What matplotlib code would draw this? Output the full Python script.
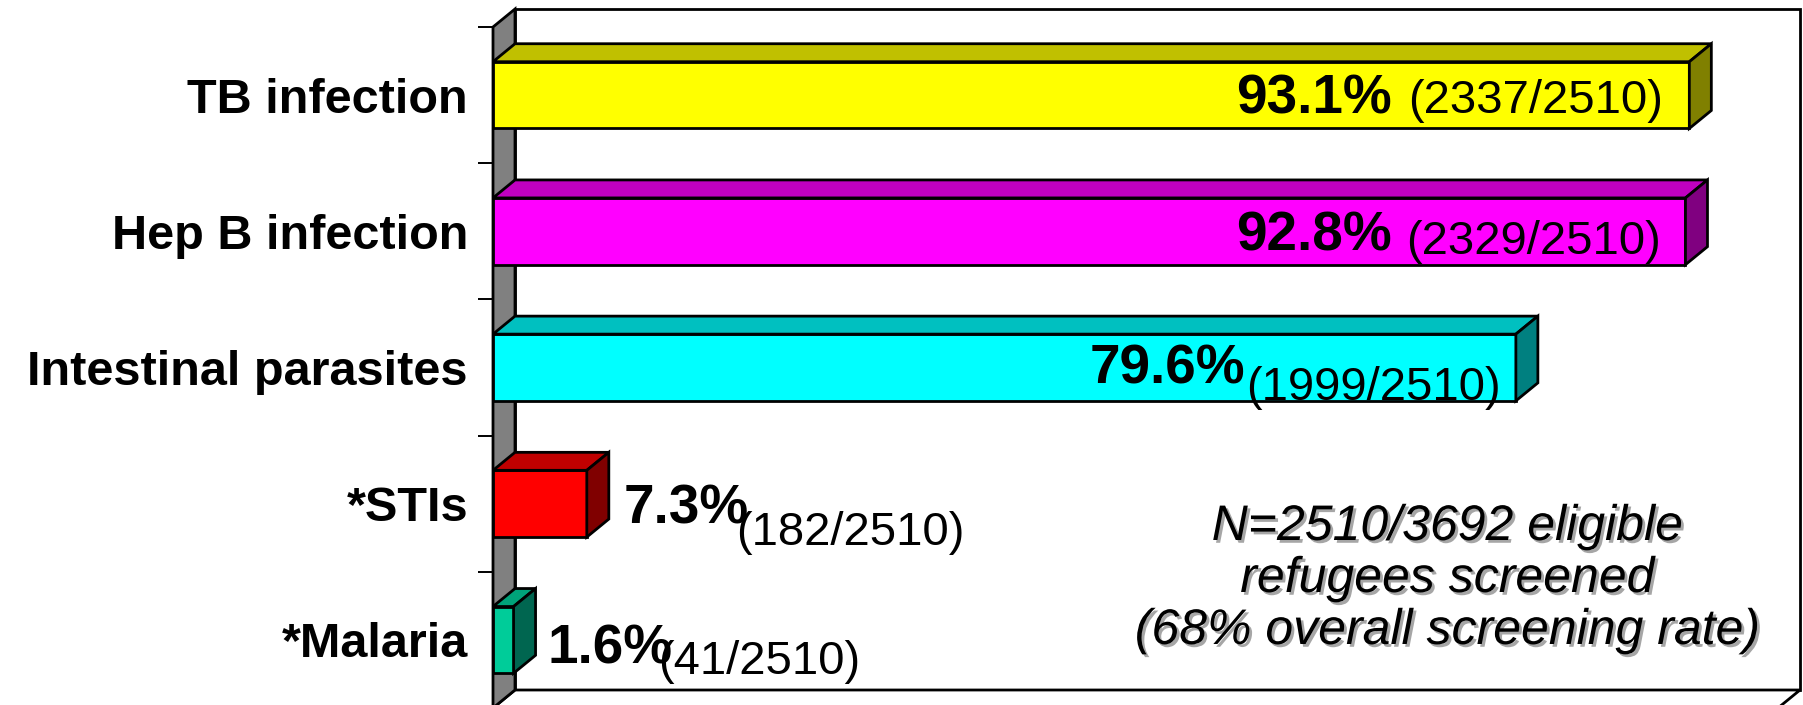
import matplotlib
matplotlib.use("Agg")
import matplotlib.pyplot as plt
from matplotlib.patches import Polygon
import matplotlib.patheffects as pe

# ---- data ----
categories = ["TB infection", "Hep B infection", "Intestinal parasites", "*STIs", "*Malaria"]
percents = [93.1, 92.8, 79.6, 7.3, 1.6]
positives = [2337, 2329, 1999, 182, 41]
screened = [2510, 2510, 2510, 2510, 2510]
note_lines = ["N=2510/3692 eligible", "refugees screened", "(68% overall screening rate)"]

# ---- styles ----
front_colors = ["#ffff00", "#ff00ff", "#00ffff", "#ff0000", "#00cc99"]
top_colors = ["#c0c000", "#c000c0", "#00c0c0", "#c00000", "#00a37a"]
side_colors = ["#808000", "#800080", "#008080", "#800000", "#006650"]
# label placement in pixels: bold start relative to bar end, baseline below centre,
# gap to the count text, extra drop of the count text
bold_dx = [-453, -449, -426, 37, 34]
bold_dy = [18, 19, 16, 20, 24]
count_gap = [16, 14, 1, -13, -15]
count_dy = [0, 4, 16, 21, 10]

FONT = "Liberation Sans"
LW = 2.0
W, H, DPI = 1803, 705, 100
X0, X1 = 493, 1778        # front plane, 0 .. 100 %
YTOP, YBOT = 27, 708
DEPTH_X, DEPTH_Y = 22, 18

fig = plt.figure(figsize=(W / DPI, H / DPI), dpi=DPI)
ax = fig.add_axes([X0 / W, (H - YBOT) / H, (X1 - X0) / W, (YBOT - YTOP) / H])
n = len(categories)
ax.set_xlim(0, 100)
ax.set_ylim(n, 0)
ax.patch.set_visible(False)
for s in ax.spines.values():
    s.set_visible(False)

ddx = DEPTH_X / (X1 - X0) * 100
ddy = -DEPTH_Y / (YBOT - YTOP) * n

# back wall, floor and left wall
ax.add_patch(Polygon([(ddx, ddy), (100 + ddx, ddy), (100 + ddx, n + ddy), (ddx, n + ddy)],
                     closed=True, facecolor="white", edgecolor="black", lw=LW,
                     clip_on=False, zorder=0))
ax.add_patch(Polygon([(0, n), (ddx, n + ddy), (100 + ddx, n + ddy), (100, n)],
                     closed=True, facecolor="white", edgecolor="black", lw=LW,
                     clip_on=False, zorder=0.5))
ax.add_patch(Polygon([(0, 0), (ddx, ddy), (ddx, n + ddy), (0, n)],
                     closed=True, facecolor="#808080", edgecolor="black", lw=LW,
                     clip_on=False, zorder=1))

# bars
centers = [i + 0.5 for i in range(n)]
bh = 0.49
ax.barh(centers, percents, height=bh, color=front_colors, edgecolor="black",
        linewidth=LW, zorder=3)
for c, v, tc, sc in zip(centers, percents, top_colors, side_colors):
    top, bot = c - bh / 2, c + bh / 2
    ax.add_patch(Polygon([(0, top), (v, top), (v + ddx, top + ddy), (ddx, top + ddy)],
                         closed=True, facecolor=tc, edgecolor="black", lw=LW,
                         clip_on=False, zorder=3))
    ax.add_patch(Polygon([(v, top), (v + ddx, top + ddy), (v + ddx, bot + ddy), (v, bot)],
                         closed=True, facecolor=sc, edgecolor="black", lw=LW,
                         clip_on=False, zorder=3))

# category labels and ticks
ax.set_xticks([])
ax.set_yticks(centers)
ax.set_yticklabels(categories, fontsize=35, fontweight="bold", family=FONT)
ax.tick_params(axis="y", which="major", length=0, pad=18)
ax.set_yticks(range(n + 1), minor=True)
ax.tick_params(axis="y", which="minor", length=11, width=1.4, color="black")

# value labels
for i, (c, v) in enumerate(zip(centers, percents)):
    bold = ax.annotate(f"{v}%", xy=(v, c), xytext=(bold_dx[i], -bold_dy[i]),
                       textcoords="offset pixels", ha="left", va="baseline",
                       fontsize=39.5, fontweight="bold", family=FONT, zorder=5,
                       annotation_clip=False)
    ax.annotate(f"({positives[i]}/{screened[i]})", xy=(1, c),
                xycoords=(bold, "data"),
                xytext=(count_gap[i], -(bold_dy[i] + count_dy[i])),
                textcoords="offset pixels", ha="left", va="baseline",
                fontsize=34, family=FONT, zorder=5, annotation_clip=False)

# screening note with shadow
shadow = [pe.SimplePatchShadow(offset=(2, -2), shadow_rgbFace="#909090", alpha=0.8),
          pe.Normal()]
for k, line in enumerate(note_lines):
    fig.text(1447 / W, (H - (540 + 52 * k)) / H, line, ha="center", va="baseline",
             fontsize=36, style="italic", family=FONT, path_effects=shadow)

fig.savefig("out.png", dpi=DPI)
